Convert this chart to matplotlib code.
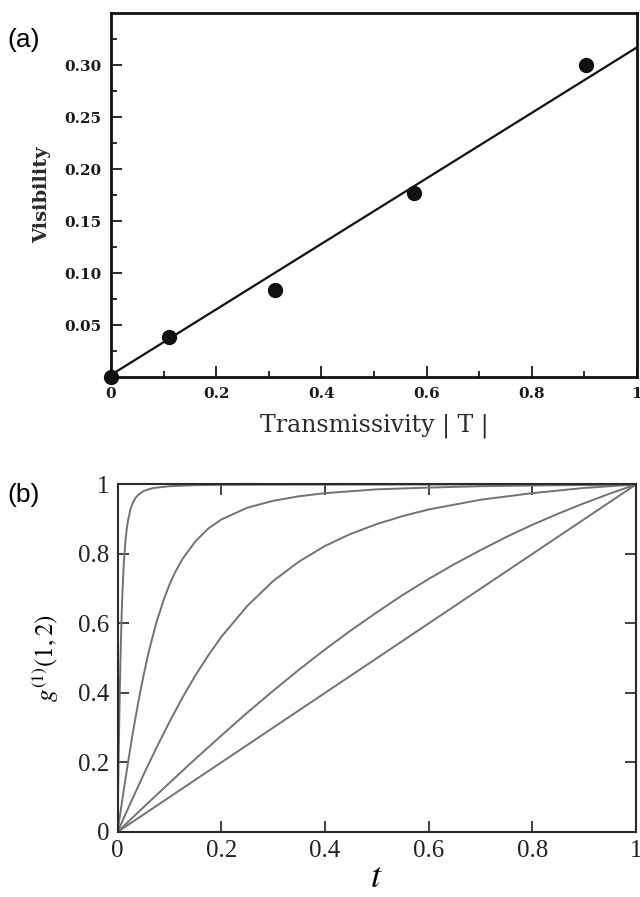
import matplotlib
matplotlib.use("Agg")
import matplotlib.pyplot as plt
from matplotlib.ticker import MultipleLocator, FixedLocator

# panel (a): measured visibility vs transmissivity
trans = [0.0, 0.111, 0.311, 0.577, 0.904]
visib = [0.0, 0.038, 0.084, 0.177, 0.300]
fit_x = [0.0, 1.0]
fit_y = [0.002, 0.317]

# panel (b): g(1)(1,2) vs t, five curves
t1 = [0.0, 1.0]
g1 = [0.0, 1.0]

t2 = [0.0, 0.05, 0.1, 0.15, 0.2, 0.25, 0.3, 0.35, 0.4, 0.45, 0.5, 0.55, 0.6, 0.65, 0.7, 0.75, 0.8, 0.85, 0.9, 0.95, 1.0]
g2 = [0.0, 0.071, 0.141, 0.210, 0.277, 0.343, 0.406, 0.467, 0.525, 0.580, 0.632, 0.682, 0.728, 0.771, 0.811, 0.849, 0.884, 0.916, 0.946, 0.974, 1.0]

t3 = [0.0, 0.025, 0.05, 0.075, 0.1, 0.125, 0.15, 0.175, 0.2, 0.25, 0.3, 0.35, 0.4, 0.45, 0.5, 0.55, 0.6, 0.7, 0.8, 0.9, 1.0]
g3 = [0.0, 0.083, 0.164, 0.242, 0.316, 0.386, 0.450, 0.508, 0.561, 0.650, 0.722, 0.778, 0.823, 0.858, 0.886, 0.909, 0.928, 0.956, 0.975, 0.990, 1.0]

t4 = [0.0, 0.01, 0.015, 0.02, 0.025, 0.03, 0.04, 0.05, 0.06, 0.075, 0.09, 0.1, 0.11, 0.125, 0.15, 0.175, 0.2, 0.25, 0.3, 0.35, 0.4, 0.5, 0.6, 0.7, 0.8, 1.0]
g4 = [0.0, 0.100, 0.149, 0.197, 0.244, 0.289, 0.373, 0.449, 0.517, 0.603, 0.672, 0.711, 0.744, 0.785, 0.836, 0.873, 0.899, 0.933, 0.953, 0.966, 0.975, 0.986, 0.991, 0.995, 0.997, 1.0]

t5 = [0.0, 0.001, 0.002, 0.003, 0.004, 0.005, 0.006, 0.008, 0.01, 0.0125, 0.015, 0.0175, 0.02, 0.025, 0.03, 0.035, 0.04, 0.05, 0.06, 0.07, 0.1, 0.15, 0.2, 0.3, 0.5, 1.0]
g5 = [0.0, 0.100, 0.196, 0.287, 0.371, 0.447, 0.515, 0.625, 0.707, 0.781, 0.832, 0.868, 0.894, 0.929, 0.949, 0.962, 0.970, 0.981, 0.986, 0.990, 0.995, 0.998, 0.999, 0.9994, 0.9998, 1.0]

curves_t = [t1, t2, t3, t4, t5]
curves_g = [g1, g2, g3, g4, g5]

plt.rcParams['mathtext.fontset'] = 'stix'

fig = plt.figure(figsize=(6.4, 8.97), dpi=100)

# ---- panel (a)
ax = fig.add_axes([0.1734, 0.5797, 0.8219, 0.4058])
ax.plot(fit_x, fit_y, color='#111111', lw=1.6)
ax.plot(trans, visib, 'o', color='#111111', ms=10, clip_on=False, zorder=5)
ax.set_xlim(0, 1)
ax.set_ylim(0, 0.35)
ax.set_xticks([0, 0.2, 0.4, 0.6, 0.8, 1.0])
ax.set_xticklabels(['0', '0.2', '0.4', '0.6', '0.8', '1'])
ax.xaxis.set_minor_locator(MultipleLocator(0.1))
ax.set_yticks([0.05, 0.10, 0.15, 0.20, 0.25, 0.30])
ax.set_yticklabels(['0.05', '0.10', '0.15', '0.20', '0.25', '0.30'])
ax.yaxis.set_minor_locator(FixedLocator([0.025, 0.075, 0.125, 0.175, 0.225, 0.275, 0.325]))
ax.tick_params(which='both', direction='in', top=False, right=False, width=1.3, colors='#1a1a1a')
ax.tick_params(which='major', length=8, pad=7)
ax.tick_params(which='minor', length=4)
for lab in ax.get_xticklabels() + ax.get_yticklabels():
    lab.set_family('DejaVu Serif')
    lab.set_weight('bold')
    lab.set_size(11)
for s in ax.spines.values():
    s.set_linewidth(2.0)
    s.set_color('#111111')
ax.set_ylabel('Visibility', family='DejaVu Serif', weight='bold', size=14, color='#2a2a2a', labelpad=9)
ax.set_xlabel('Transmissivity | T |', family='DejaVu Serif', size=17, color='#2a2a2a', labelpad=9)
fig.text(0.012, 0.955, '(a)', family='Liberation Sans', size=19, va='center', ha='left')

# ---- panel (b)
bx = fig.add_axes([0.1836, 0.0725, 0.8102, 0.3874])
for tt, gg in zip(curves_t, curves_g):
    bx.plot(tt, gg, color='#727272', lw=1.4)
bx.set_xlim(0, 1)
bx.set_ylim(0, 1)
bx.set_xticks([0, 0.2, 0.4, 0.6, 0.8, 1.0])
bx.set_xticklabels(['0', '0.2', '0.4', '0.6', '0.8', '1'])
bx.set_yticks([0, 0.2, 0.4, 0.6, 0.8, 1.0])
bx.set_yticklabels(['0', '0.2', '0.4', '0.6', '0.8', '1'])
bx.tick_params(direction='in', top=True, right=True, length=8, width=1.2, pad=6, labelsize=18, colors='#222222')
for lab in bx.get_xticklabels() + bx.get_yticklabels():
    lab.set_family('Liberation Serif')
for s in bx.spines.values():
    s.set_linewidth(1.5)
    s.set_color('#2a2a2a')
bx.set_ylabel(r'$g^{(1)}(1,2)$', size=18, labelpad=12)
bx.set_xlabel(r'$t$', size=26, labelpad=-2)
fig.text(0.012, 0.448, '(b)', family='Liberation Sans', size=19, va='center', ha='left')

fig.savefig('out.png', dpi=100)
